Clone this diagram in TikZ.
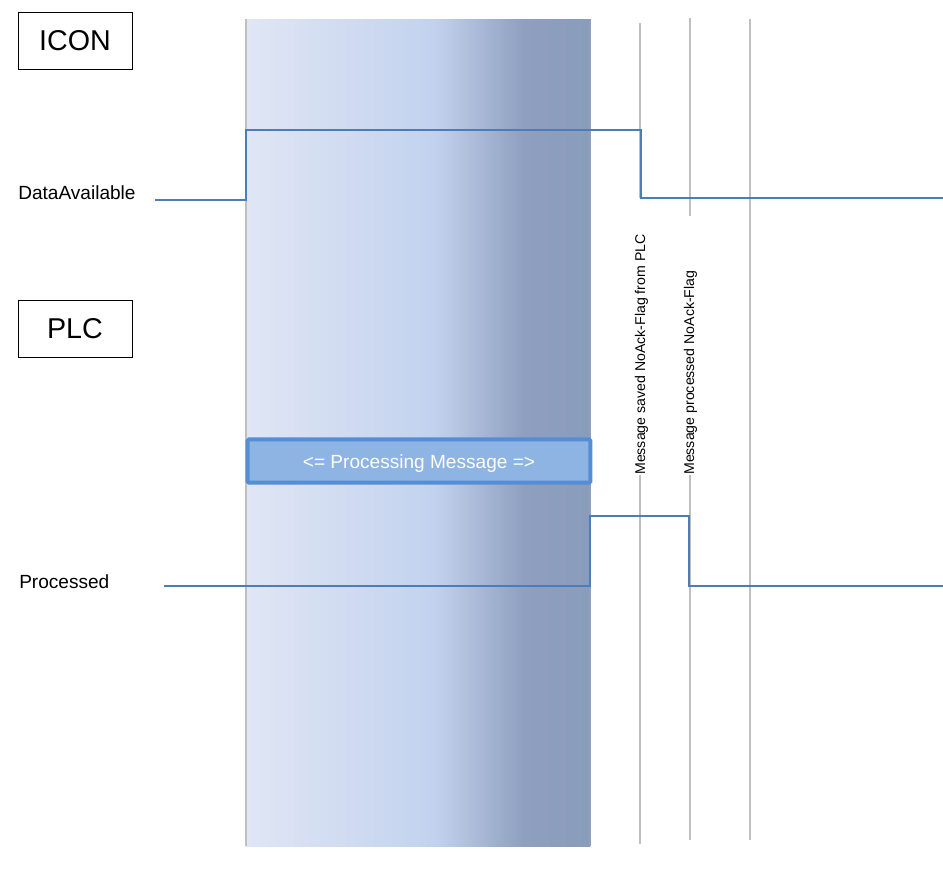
\documentclass[tikz,border=0pt]{standalone}
\usepackage{fontspec}
\setmainfont{Liberation Sans}
\definecolor{sig}{HTML}{4A7EBB}
\definecolor{gridc}{HTML}{BFBFBF}
\definecolor{boxfill}{HTML}{8EB4E3}
\definecolor{boxdraw}{HTML}{558ED5}
\definecolor{ga}{HTML}{E0E6F4}
\definecolor{gb}{HTML}{C2D2EE}
\definecolor{gc}{HTML}{8E9FBF}
\definecolor{gd}{HTML}{8A9CBB}
\pgfdeclarehorizontalshading{band}{100bp}{color(0bp)=(ga); color(25bp)=(ga); color(52.5bp)=(gb); color(65.5bp)=(gc); color(75bp)=(gd); color(100bp)=(gd)}
\tikzset{
  sigline/.style={draw=sig, line width=1.5pt},
  gridline/.style={draw=gridc, line width=0.9pt},
  labelbox/.style={draw=black, line width=0.75pt, minimum width=85.5pt, minimum height=42.75pt, inner sep=0pt, font=\fontsize{21.5pt}{24pt}\selectfont},
  siglabel/.style={anchor=base west, inner sep=0pt, font=\fontsize{14.3pt}{16pt}\selectfont},
  vlabel/.style={rotate=90, anchor=west, inner sep=0pt, font=\fontsize{10.6pt}{12pt}\selectfont},
  procbox/.style={draw=boxdraw, fill=boxfill, line width=3pt, rounded corners=1pt, minimum width=257pt, minimum height=32.5pt, inner sep=0pt, text height=12pt, text depth=1pt, text=white, font=\fontsize{14.3pt}{16pt}\selectfont}
}
\begin{document}
\begin{tikzpicture}[x=0.75pt,y=-0.75pt]
\useasboundingbox (0,0) rectangle (943,879);
% shaded band
\shade[shading=band] (246,19) rectangle (590,846);
\draw[gridline] (246,19) -- (246,846);
\draw[draw=gc, line width=0.9pt] (590,19) -- (590,846);
% time markers
\coordinate (m1t) at (640,23);  \coordinate (m1a) at (640,198);
\coordinate (m1b) at (640,475); \coordinate (m1e) at (640,844);
\coordinate (m2t) at (690,18);  \coordinate (m2a) at (690,216);
\coordinate (m2b) at (690,475); \coordinate (m2e) at (690,840);
\coordinate (m3t) at (750,19);  \coordinate (m3e) at (750,840);
\draw[gridline] (m1t) -- (m1a);
\draw[gridline] (m1b) -- (m1e);
\draw[gridline] (m2t) -- (m2a);
\draw[gridline] (m2b) -- (m2e);
\draw[gridline] (m3t) -- (m3e);
\node[vlabel] (t1) at (641.5,475) {Message saved NoAck-Flag from PLC};
\node[vlabel] (t2) at (690.5,475) {Message processed NoAck-Flag};
% boxes
\node[labelbox] (icon) at (75,40.5) {ICON};
\node[labelbox] (plc) at (75,328.5) {PLC};
\node[siglabel] (da) at (18,199) {DataAvailable};
\node[siglabel] (pr) at (19,588) {Processed};
% DataAvailable signal
\coordinate (d0) at (155,200);
\coordinate (d1) at (246,200);
\coordinate (d2) at (246,130);
\coordinate (d3) at (641,130);
\coordinate (d4) at (641,198);
\coordinate (d5) at (943,198);
\draw[sigline] (d0) -- (d1) -- (d2) -- (d3) -- (d4) -- (d5);
% Processed signal
\coordinate (p0) at (164,586);
\coordinate (p1) at (590,586);
\coordinate (p2) at (590,516);
\coordinate (p3) at (689,516);
\coordinate (p4) at (689,586);
\coordinate (p5) at (943,586);
\draw[sigline] (p0) -- (p1) -- (p2) -- (p3) -- (p4) -- (p5);
% processing box
\node[procbox] (proc) at (419,461) {<= Processing Message =>};
\end{tikzpicture}
\end{document}
